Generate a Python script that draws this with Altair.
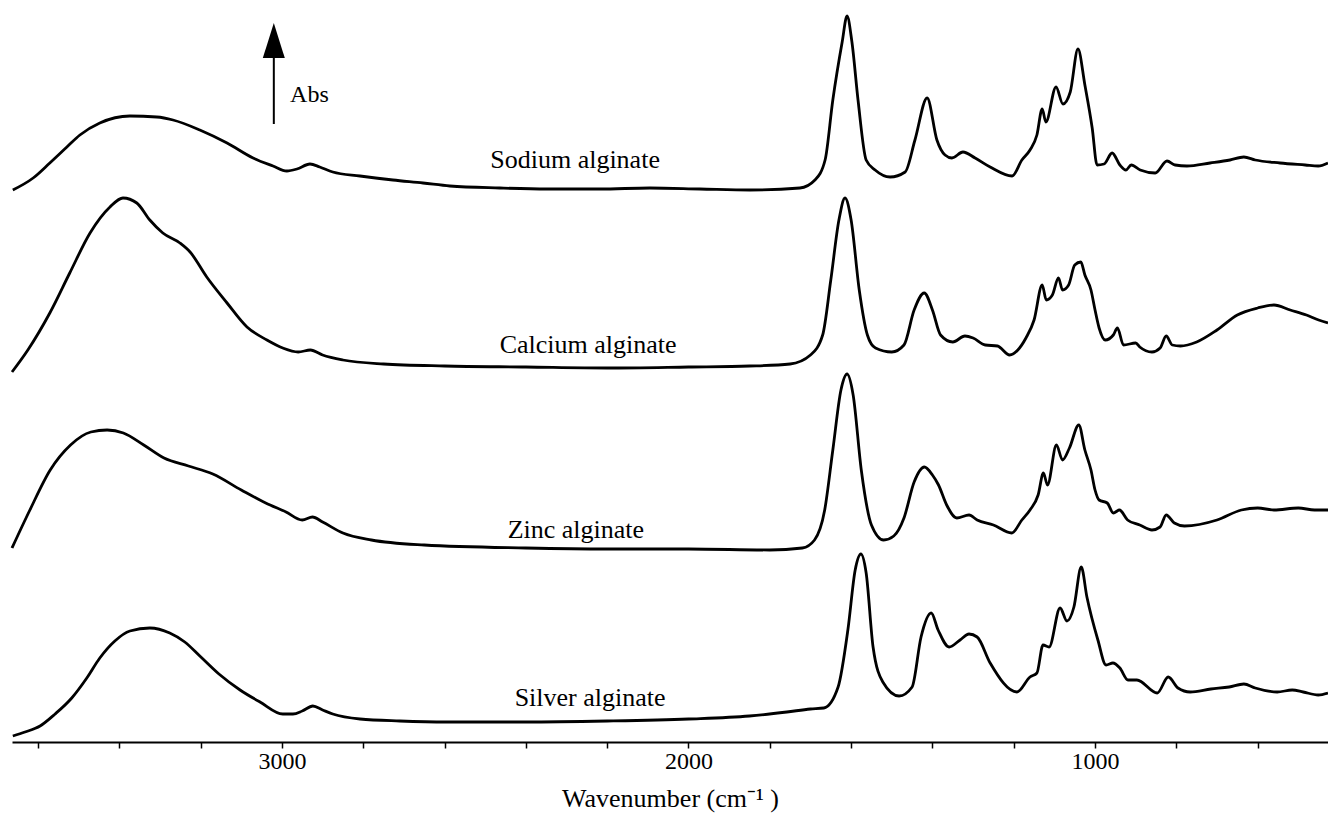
import altair as alt
import pandas as pd

# ---------------------------------------------------------------
# FTIR spectra of four alginates, stacked with vertical offsets.
# Each trace: wavenumbers (cm-1) and offset absorbance (a.u.).
# ---------------------------------------------------------------
sodium_wn = [3662, 3612, 3571, 3529, 3497, 3448, 3374, 3308, 3268, 3202, 3135, 3071,
             3022, 2988, 2963, 2931, 2907, 2875, 2808, 2727, 2653, 2587, 2464, 2348,
             2218, 2095, 1972, 1849, 1726, 1689, 1664, 1645, 1622, 1610, 1598, 1583,
             1563, 1541, 1504, 1467, 1443, 1413, 1389, 1369, 1352, 1325, 1295, 1258,
             1204, 1180, 1160, 1143, 1130, 1121, 1096, 1079, 1061, 1042, 1025, 1007,
             995, 978, 958, 939, 924, 911, 889, 852, 823, 803, 774, 717, 668, 634,
             606, 545, 483, 451, 427]
sodium_abs = [552, 564, 579, 595, 607, 619, 626, 625, 622, 612, 599, 584,
              576, 571, 573, 578, 575, 570, 566, 562, 559, 556, 554, 553,
              553, 554, 553, 552, 554, 562, 582, 642, 700, 726, 700, 642,
              582, 572, 565, 570, 602, 644, 602, 587, 584, 590, 584, 575,
              566, 582, 592, 607, 633, 620, 655, 638, 650, 693, 657, 614,
              577, 578, 589, 577, 572, 577, 572, 569, 581, 577, 576, 579, 582, 585,
              582, 579, 577, 576, 579]

calcium_wn = [3664, 3625, 3571, 3522, 3472, 3423, 3391, 3357, 3325, 3293, 3251, 3226,
              3185, 3135, 3086, 3037, 2998, 2960, 2930, 2900, 2850, 2750, 2600, 2400,
              2200, 2000, 1850, 1750, 1700, 1670, 1650, 1630, 1615, 1600, 1580, 1560,
              1540, 1500, 1470, 1445, 1420, 1400, 1380, 1350, 1320, 1300, 1270, 1240,
              1210, 1190, 1170, 1150, 1130, 1120, 1105, 1090, 1080, 1065, 1050, 1035,
              1025, 1010, 1000, 990, 975, 955, 945, 930, 900, 890, 860, 840, 825, 810,
              790, 750, 700, 650, 600, 560, 520, 480, 450, 427]
calcium_abs = [370, 392, 429, 469, 509, 535, 544, 539, 522, 509, 499, 490,
               465, 439, 415, 402, 394, 390, 392, 387, 382, 378, 376, 375,
               374, 375, 376, 378, 387, 407, 462, 522, 544, 522, 452, 407,
               394, 390, 397, 432, 449, 432, 407, 400, 406, 404, 397, 396,
               387, 392, 404, 422, 457, 442, 447, 464, 452, 457, 477, 480,
               467, 452, 432, 414, 402, 407, 414, 397, 399, 395, 390, 394, 406, 397,
               396, 400, 412, 427, 434, 437, 432, 427, 422, 419]

zinc_wn = [3664, 3620, 3570, 3520, 3470, 3430, 3390, 3340, 3290, 3230, 3170, 3100,
           3040, 2990, 2950, 2925, 2900, 2850, 2780, 2650, 2400, 2200, 2000, 1800,
           1720, 1690, 1665, 1645, 1625, 1610, 1595, 1575, 1550, 1520, 1495, 1470,
           1445, 1420, 1400, 1385, 1365, 1340, 1310, 1290, 1250, 1205, 1180, 1160,
           1140, 1127, 1117, 1095, 1080, 1063, 1040, 1025, 1010, 1000, 990, 970,
           955, 940, 920, 890, 860, 840, 825, 805, 780, 700, 640, 600, 560, 500,
           460, 427]
zinc_abs = [194, 232, 272, 297, 310, 312, 309, 297, 284, 276, 268, 252,
            239, 230, 222, 225, 220, 209, 202, 197, 194, 193, 193, 192,
            194, 202, 232, 292, 352, 368, 347, 272, 217, 202, 206, 224,
            260, 275, 267, 257, 237, 224, 227, 222, 217, 209, 222, 232,
            247, 269, 257, 297, 282, 294, 317, 292, 272, 252, 242, 239,
            229, 232, 222, 217, 212, 215, 227, 219, 216, 222, 232, 234, 232, 234,
            232, 232]

silver_wn = [3662, 3632, 3595, 3558, 3517, 3480, 3448, 3411, 3374, 3325, 3276, 3239,
             3202, 3155, 3103, 3054, 2998, 2973, 2950, 2924, 2900, 2875, 2808, 2710,
             2594, 2400, 2200, 2000, 1850, 1758, 1700, 1667, 1632, 1608, 1590, 1576,
             1563, 1546, 1522, 1482, 1450, 1428, 1403, 1386, 1359, 1332, 1310, 1290,
             1258, 1192, 1160, 1143, 1128, 1113, 1086, 1069, 1052, 1034, 1020, 993,
             973, 956, 939, 919, 897, 847, 820, 796, 766, 715, 670, 634, 606, 552,
             515, 488, 451, 427]
silver_abs = [6, 10, 16, 28, 44, 64, 84, 101, 111, 114, 109, 100,
              86, 68, 52, 40, 28, 28, 31, 36, 32, 28, 23, 21,
              20, 20, 21, 23, 26, 30, 33, 34, 55, 112, 172, 188,
              169, 95, 60, 46, 55, 105, 129, 112, 95, 102, 108, 105,
              79, 50, 65, 69, 97, 95, 134, 121, 135, 175, 145, 102,
              77, 79, 74, 62, 62, 49, 65, 54, 50, 53, 55, 58, 54, 50,
              52, 50, 47, 49]

# Sample names printed next to each trace
label_text = ["Sodium alginate", "Calcium alginate", "Zinc alginate", "Silver alginate"]
label_wn = [2279, 2247, 2277, 2242]
label_abs = [582, 397, 212, 44]

# Absorbance arrow (shaft and head) and its caption
arrow_wn = [3020]
arrow_low = [618]
arrow_base = [684]
head_wn = [3047, 3020, 2993]
head_top = [684, 719, 684]
abs_text = ["Abs"]
abs_wn = [2980]
abs_y = [647]

rows = []
for name, wn, ab in [("Sodium alginate", sodium_wn, sodium_abs),
                     ("Calcium alginate", calcium_wn, calcium_abs),
                     ("Zinc alginate", zinc_wn, zinc_abs),
                     ("Silver alginate", silver_wn, silver_abs)]:
    for w, a in zip(wn, ab):
        rows.append({"sample": name, "wn": w, "a": a})
spectra = pd.DataFrame(rows)

labels = pd.DataFrame({"text": label_text, "wn": label_wn, "a": label_abs})
shaft = pd.DataFrame({"wn": arrow_wn, "a": arrow_low, "a2": arrow_base})
head = pd.DataFrame({"wn": head_wn, "a": head_top, "a2": [arrow_base[0]] * 3})
abs_lbl = pd.DataFrame({"text": abs_text, "wn": abs_wn, "a": abs_y})

SERIF = "Liberation Serif"
x_scale = alt.Scale(domain=[427, 3664], reverse=True, nice=False, zero=False)
y_scale = alt.Scale(domain=[0, 742], nice=False, zero=False)

x_axis = alt.Axis(
    values=list(range(600, 3601, 200)),
    format="d",
    labelExpr="datum.value % 1000 === 0 ? datum.label : ''",
    labelOverlap=False,
    labelFlush=False,
    grid=False,
    domainColor="black",
    domainWidth=2,
    tickColor="black",
    tickWidth=1.5,
    tickSize=6,
    labelFont=SERIF,
    labelFontSize=24,
    labelColor="black",
    labelPadding=1,
    titleFont=SERIF,
    titleFontSize=26,
    titleFontWeight="normal",
    titleColor="black",
    titlePadding=12,
)

lines = alt.Chart(spectra).mark_line(
    color="black", strokeWidth=2.8, interpolate="monotone"
).encode(
    x=alt.X("wn:Q", scale=x_scale, axis=x_axis, title="Wavenumber (cm⁻¹ )"),
    y=alt.Y("a:Q", scale=y_scale, axis=None),
    detail="sample:N",
)

names = alt.Chart(labels).mark_text(
    font=SERIF, fontSize=26, color="black", align="center", baseline="middle"
).encode(x=alt.X("wn:Q", scale=x_scale), y=alt.Y("a:Q", scale=y_scale), text="text:N")

arrow_shaft = alt.Chart(shaft).mark_rule(color="black", strokeWidth=2).encode(
    x=alt.X("wn:Q", scale=x_scale), y=alt.Y("a:Q", scale=y_scale), y2="a2:Q"
)

arrow_head = alt.Chart(head).mark_area(color="black", opacity=1).encode(
    x=alt.X("wn:Q", scale=x_scale), y=alt.Y("a:Q", scale=y_scale), y2="a2:Q"
)

abs_caption = alt.Chart(abs_lbl).mark_text(
    font=SERIF, fontSize=24, color="black", align="left", baseline="middle"
).encode(x=alt.X("wn:Q", scale=x_scale), y=alt.Y("a:Q", scale=y_scale), text="text:N")

chart = alt.layer(lines, names, arrow_shaft, arrow_head, abs_caption).properties(
    width=1316,
    height=742,
    padding={"left": 12, "top": 0, "right": 0, "bottom": 71},
    autosize=alt.AutoSizeParams(type="none"),
    background="white",
).configure_view(stroke=None)

chart.save("out.html", embed_options={"renderer": "svg", "actions": False})
